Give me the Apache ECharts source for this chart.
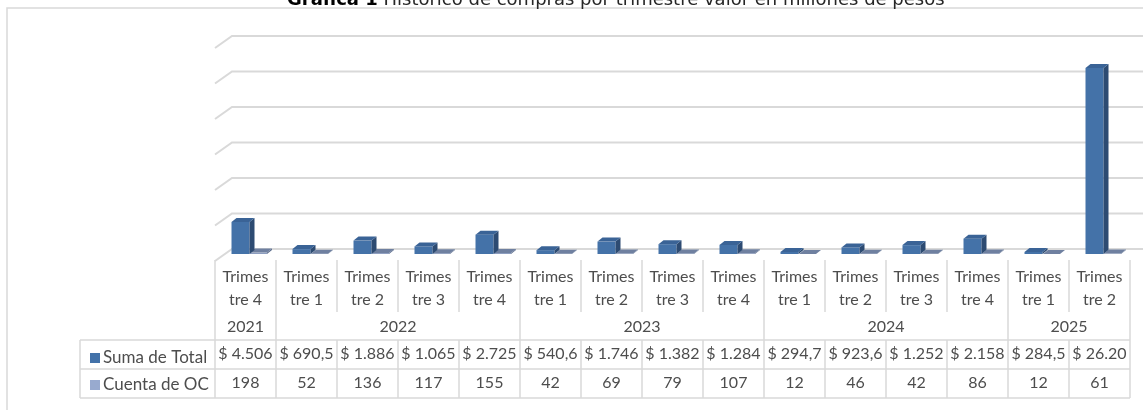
<!DOCTYPE html>
<html>
<head>
<meta charset="utf-8">
<script src="https://cdn.jsdelivr.net/npm/echarts@6/dist/echarts.min.js"></script>
<style>
html, body { margin: 0; padding: 0; background: #fff; }
#chart { width: 1143px; height: 410px; }
</style>
</head>
<body>
<div id="chart"></div>
<script>
// datos de la grafica
var quarters = ['Trimestre 4', 'Trimestre 1', 'Trimestre 2', 'Trimestre 3', 'Trimestre 4',
	'Trimestre 1', 'Trimestre 2', 'Trimestre 3', 'Trimestre 4',
	'Trimestre 1', 'Trimestre 2', 'Trimestre 3', 'Trimestre 4',
	'Trimestre 1', 'Trimestre 2'];
var years = ['2021', '2022', '2023', '2024', '2025'];
var yearSpans = [1, 4, 4, 4, 2];
var totals = [4506, 690.5, 1886, 1065, 2725, 540.6, 1746, 1382, 1284, 294.7, 923.6, 1252, 2158, 284.5, 26200];
var totalLabels = ['$ 4.506', '$ 690,5', '$ 1.886', '$ 1.065', '$ 2.725', '$ 540,6', '$ 1.746', '$ 1.382',
	'$ 1.284', '$ 294,7', '$ 923,6', '$ 1.252', '$ 2.158', '$ 284,5', '$ 26.20'];
var counts = [198, 52, 136, 117, 155, 42, 69, 79, 107, 12, 46, 42, 86, 12, 61];
var yTicks = [0, 5000, 10000, 15000, 20000, 25000, 30000];

var FONT = 'Lato';
var LINE = '#d9d9d9';
var TEXT = '#4d4d4d';

// limites y centros de cada año en unidades de categoria
var yearBounds = [0], yearMids = [];
yearSpans.forEach(function(s, i) {
	yearBounds.push(yearBounds[i] + s);
	yearMids.push(yearBounds[i] + s / 2);
});

// columna "3d" tipo excel
var bar3d = function(off, w, faces) {
	return function(params, api) {
		var i = api.value(0);
		var base = api.coord([i, 0]);
		var top = api.coord([i, api.value(1)]);
		var x0 = base[0] + off, y0 = base[1] + 5, y1 = top[1] + 5;
		var dx = 5, dy = -4;
		return {
			type: 'group',
			children: [{
				type: 'rect',
				shape: { x: x0, y: y1, width: w, height: y0 - y1 },
				style: { fill: faces[0] }
			}, {
				type: 'polygon',
				shape: { points: [[x0 + w, y1], [x0 + w + dx, y1 + dy], [x0 + w + dx, y0 + dy], [x0 + w, y0]] },
				style: { fill: faces[1] }
			}, {
				type: 'polygon',
				shape: { points: [[x0, y1], [x0 + w, y1], [x0 + w + dx, y1 + dy], [x0 + dx, y1 + dy]] },
				style: { fill: faces[2] }
			}]
		};
	};
};

var catAxis = function(data, offset, tickLen, margin, extra) {
	var ax = {
		type: 'category',
		data: data,
		position: 'bottom',
		offset: offset,
		axisLine: { show: false },
		axisTick: { show: tickLen > 0, length: tickLen, lineStyle: { color: LINE, width: 1.5 } },
		axisLabel: { show: true, margin: margin, color: TEXT, fontFamily: FONT, fontSize: 16, interval: 0 }
	};
	return Object.assign(ax, extra || {});
};

var option = {
	animation: false,
	backgroundColor: '#fff',
	title: {
		text: '{b|Grafica 1} Histórico de compras por trimestre valor en millones de pesos',
		left: 287,
		top: -9,
		padding: 0,
		textStyle: {
			fontFamily: 'DejaVu Sans',
			fontSize: 18,
			fontWeight: 'normal',
			color: '#262626',
			rich: {
				b: { fontFamily: 'DejaVu Sans', fontSize: 18, fontWeight: 'bold', color: '#000' }
			}
		}
	},
	legend: {
		data: ['Suma de Total', 'Cuenta de OC'],
		orient: 'vertical',
		left: 85,
		top: 344,
		icon: 'rect',
		itemWidth: 10,
		itemHeight: 10,
		itemGap: 9,
		selectedMode: false,
		textStyle: { color: TEXT, fontFamily: FONT, fontSize: 17, lineHeight: 18, padding: [0, 0, 0, -2] }
	},
	grid: {
		left: 215,
		right: 13,
		top: 36,
		bottom: 161
	},
	xAxis: [
		{
			type: 'category',
			data: quarters,
			show: false
		},
		catAxis(quarters, 11, 52, 5, {
			axisLabel: {
				margin: 5, color: TEXT, fontFamily: FONT, fontSize: 16, lineHeight: 23, interval: 0,
				formatter: function(v) { return v.replace('Trimestre', 'Trimes\ntre'); }
			}
		}),
		{
			type: 'value',
			position: 'bottom',
			offset: 63,
			min: 0,
			max: quarters.length,
			axisLine: { show: false },
			splitLine: { show: false },
			axisTick: { show: true, length: 28, customValues: yearBounds, lineStyle: { color: LINE, width: 1.5 } },
			axisLabel: {
				margin: 7, color: TEXT, fontFamily: FONT, fontSize: 16,
				customValues: yearMids,
				formatter: function(v) { return years[yearMids.indexOf(v)]; }
			}
		},
		catAxis(totalLabels, 91, 58, 6),
		catAxis(counts.map(String), 120, 29, 6)
	],
	yAxis: {
		type: 'value',
		min: 0,
		max: 30000,
		interval: 5000,
		show: false
	},
	graphic: [
		// marco del area de la grafica
		{ type: 'rect', shape: { x: 7, y: 8, width: 1300, height: 600 }, style: { fill: null, stroke: LINE, lineWidth: 1.5 }, silent: true },
		// lineas de la tabla de datos
		{ type: 'line', shape: { x1: 80, y1: 340, x2: 1130, y2: 340 }, style: { stroke: LINE, lineWidth: 1.5 }, silent: true },
		{ type: 'line', shape: { x1: 80, y1: 369, x2: 1130, y2: 369 }, style: { stroke: LINE, lineWidth: 1.5 }, silent: true },
		{ type: 'line', shape: { x1: 80, y1: 398, x2: 1130, y2: 398 }, style: { stroke: LINE, lineWidth: 1.5 }, silent: true },
		{ type: 'line', shape: { x1: 80, y1: 340, x2: 80, y2: 398 }, style: { stroke: LINE, lineWidth: 1.5 }, silent: true }
	],
	series: [
		{
			type: 'custom',
			silent: true,
			z: 1,
			data: yTicks.map(function(v) { return [0, v]; }),
			renderItem: function(params, api) {
				var y = api.coord([0, api.value(1)])[1];
				var cs = params.coordSys;
				return {
					type: 'polyline',
					shape: { points: [[cs.x, y + 12], [cs.x + 17, y], [cs.x + cs.width + 13, y]] },
					style: { stroke: LINE, lineWidth: 2, fill: null }
				};
			}
		},
		{
			name: 'Suma de Total',
			type: 'custom',
			z: 3,
			itemStyle: { color: '#4372a9' },
			data: totals.map(function(v, i) { return [i, v]; }),
			renderItem: bar3d(-14, 18, ['#4472a8', '#2d4b72', '#3a6396'])
		},
		{
			name: 'Cuenta de OC',
			type: 'custom',
			z: 2,
			itemStyle: { color: '#98aacf' },
			data: counts.map(function(v, i) { return [i, v]; }),
			renderItem: bar3d(4.5, 17, ['#8c9dbf', '#5d6d8c', '#6f80a0'])
		}
	]
};

var chart = echarts.init(document.getElementById('chart'));
chart.setOption(option);
</script>
</body>
</html>
